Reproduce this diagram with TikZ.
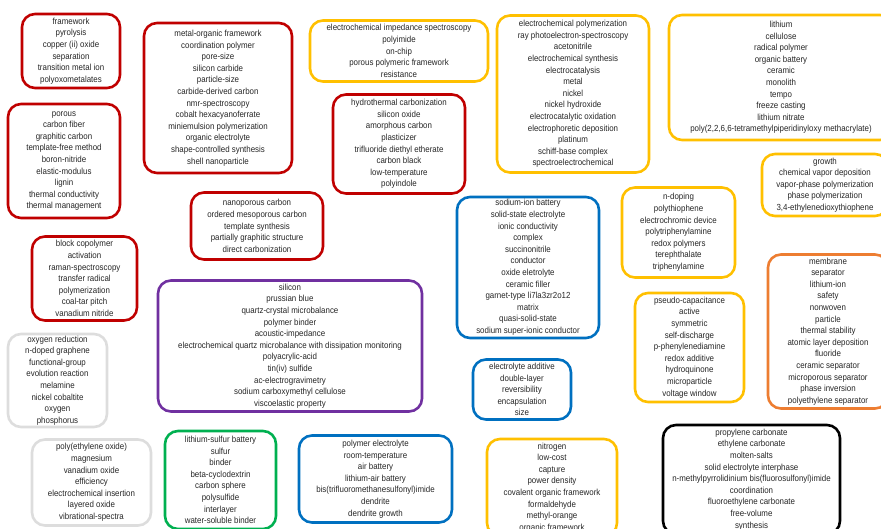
\documentclass[tikz,border=0pt]{standalone}
\usepackage{fontspec}
\setmainfont{Liberation Sans}[FakeStretch=0.9]
\usepackage{xcolor}
\usepackage{tikz}
\definecolor{kwRed}{HTML}{C00000}
\definecolor{kwGold}{HTML}{FFC000}
\definecolor{kwBlue}{HTML}{0070C0}
\definecolor{kwPurple}{HTML}{7030A0}
\definecolor{kwGreen}{HTML}{00B050}
\definecolor{kwOrange}{HTML}{ED7D31}
\definecolor{kwGrey}{HTML}{DDDDDD}
\definecolor{kwText}{HTML}{262626}

\begin{document}
\begin{tikzpicture}[
  x=1pt, y=-1pt,
  font=\fontsize{8.8}{11.6}\selectfont,
  cluster/.style={draw=#1, line width=2.6pt, rounded corners=13pt, fill=white,
                  text=kwText, align=center, inner sep=0pt}
]
\path[use as bounding box, clip] (0,0) rectangle (881,529);
\fill[white] (0,0) rectangle (881,529);

% red clusters
\node[cluster=kwRed, minimum width=98pt, minimum height=74pt] (framework) at (71,51)
  {framework\\pyrolysis\\copper (ii) oxide\\separation\\transition metal ion\\polyoxometalates};
\node[cluster=kwRed, minimum width=112pt, minimum height=114pt] (porous) at (64,161)
  {porous\\carbon fiber\\graphitic carbon\\template-free method\\boron-nitride\\elastic-modulus\\lignin\\thermal conductivity\\thermal management};
\node[cluster=kwRed, minimum width=148pt, minimum height=150pt] (mof) at (218,98)
  {metal-organic framework\\coordination polymer\\pore-size\\silicon carbide\\particle-size\\carbide-derived carbon\\nmr-spectroscopy\\cobalt hexacyanoferrate\\miniemulsion polymerization\\organic electrolyte\\shape-controlled synthesis\\shell nanoparticle};
\node[cluster=kwRed, minimum width=132pt, minimum height=99pt] (hydrothermal) at (399,144)
  {hydrothermal carbonization\\silicon oxide\\amorphous carbon\\plasticizer\\trifluoride diethyl etherate\\carbon black\\low-temperature\\polyindole};
\node[cluster=kwRed, minimum width=132pt, minimum height=67pt] (nanoporous) at (257,226)
  {nanoporous carbon\\ordered mesoporous carbon\\template synthesis\\partially graphitic structure\\direct carbonization};
\node[cluster=kwRed, minimum width=105pt, minimum height=84pt] (copolymer) at (84.5,278.5)
  {block copolymer\\activation\\raman-spectroscopy\\transfer radical\\polymerization\\coal-tar pitch\\vanadium nitride};

% yellow clusters
\node[cluster=kwGold, minimum width=178pt, minimum height=61pt] (impedance) at (399,51)
  {electrochemical impedance spectroscopy\\polyimide\\on-chip\\porous polymeric framework\\resistance};
\node[cluster=kwGold, minimum width=152pt, minimum height=157pt] (electropoly) at (573,94)
  {electrochemical polymerization\\ray photoelectron-spectroscopy\\acetonitrile\\electrochemical synthesis\\electrocatalysis\\metal\\nickel\\nickel hydroxide\\electrocatalytic oxidation\\electrophoretic deposition\\platinum\\schiff-base complex\\spectroelectrochemical};
\node[cluster=kwGold, minimum width=224pt, minimum height=125pt] (lithium) at (781,77.5)
  {lithium\\cellulose\\radical polymer\\organic battery\\ceramic\\monolith\\tempo\\freeze casting\\lithium nitrate\\poly(2,2,6,6-tetramethylpiperidinyloxy methacrylate)};
\node[cluster=kwGold, minimum width=126pt, minimum height=62pt] (growth) at (825,185)
  {growth\\chemical vapor deposition\\vapor-phase polymerization\\phase polymerization\\3,4-ethylenedioxythiophene};
\node[cluster=kwGold, minimum width=113pt, minimum height=90pt] (ndoping) at (678.5,232.5)
  {n-doping\\polythiophene\\electrochromic device\\polytriphenylamine\\redox polymers\\terephthalate\\triphenylamine};
\node[cluster=kwGold, minimum width=109pt, minimum height=109pt] (pseudo) at (689.5,347.5)
  {pseudo-capacitance\\active\\symmetric\\self-discharge\\p-phenylenediamine\\redox additive\\hydroquinone\\microparticle\\voltage window};
\node[cluster=kwGold, minimum width=130pt, minimum height=97pt] (nitrogen) at (552,487.5)
  {nitrogen\\low-cost\\capture\\power density\\covalent organic framework\\formaldehyde\\methyl-orange\\organic framework};

% blue clusters
\node[cluster=kwBlue, minimum width=142pt, minimum height=141pt] (sodium) at (528,267.5)
  {sodium-ion battery\\solid-state electrolyte\\ionic conductivity\\complex\\succinonitrile\\conductor\\oxide eletrolyte\\ceramic filler\\garnet-type li7la3zr2o12\\matrix\\quasi-solid-state\\sodium super-ionic conductor};
\node[cluster=kwBlue, minimum width=98pt, minimum height=60pt] (additive) at (522,389.5)
  {electrolyte additive\\double-layer\\reversibility\\encapsulation\\size};
\node[cluster=kwBlue, minimum width=153pt, minimum height=87pt] (polyelectrolyte) at (375.5,479)
  {polymer electrolyte\\room-temperature\\air battery\\lithium-air battery\\bis(trifluoromethanesulfonyl)imide\\dendrite\\dendrite growth};

% purple, green, orange, grey, black clusters
\node[cluster=kwPurple, minimum width=264pt, minimum height=131pt] (silicon) at (290,346)
  {silicon\\prussian blue\\quartz-crystal microbalance\\polymer binder\\acoustic-impedance\\electrochemical quartz microbalance with dissipation monitoring\\polyacrylic-acid\\tin(iv) sulfide\\ac-electrogravimetry\\sodium carboxymethyl cellulose\\viscoelastic property};
\node[cluster=kwGreen, minimum width=111pt, minimum height=98pt] (sulfur) at (220.5,480)
  {lithium-sulfur battery\\sulfur\\binder\\beta-cyclodextrin\\carbon sphere\\polysulfide\\interlayer\\water-soluble binder};
\node[cluster=kwOrange, minimum width=120pt, minimum height=154pt] (membrane) at (828,331.5)
  {membrane\\separator\\lithium-ion\\safety\\nonwoven\\particle\\thermal stability\\atomic layer deposition\\fluoride\\ceramic separator\\microporous separator\\phase inversion\\polyethylene separator};
\node[cluster=kwGrey, minimum width=99pt, minimum height=93pt] (oxygen) at (57.5,380.5)
  {oxygen reduction\\n-doped graphene\\functional-group\\evolution reaction\\melamine\\nickel cobaltite\\oxygen\\phosphorus};
\node[cluster=kwGrey, minimum width=119pt, minimum height=86pt] (peo) at (91.5,482.5)
  {poly(ethylene oxide)\\magnesium\\vanadium oxide\\efficiency\\electrochemical insertion\\layered oxide\\vibrational-spectra};
\node[cluster=black, minimum width=177pt, minimum height=109pt] (carbonate) at (751.5,479.5)
  {propylene carbonate\\ethylene carbonate\\molten-salts\\solid electrolyte interphase\\n-methylpyrrolidinium bis(fluorosulfonyl)imide\\coordination\\fluoroethylene carbonate\\free-volume\\synthesis};
\end{tikzpicture}
\end{document}
